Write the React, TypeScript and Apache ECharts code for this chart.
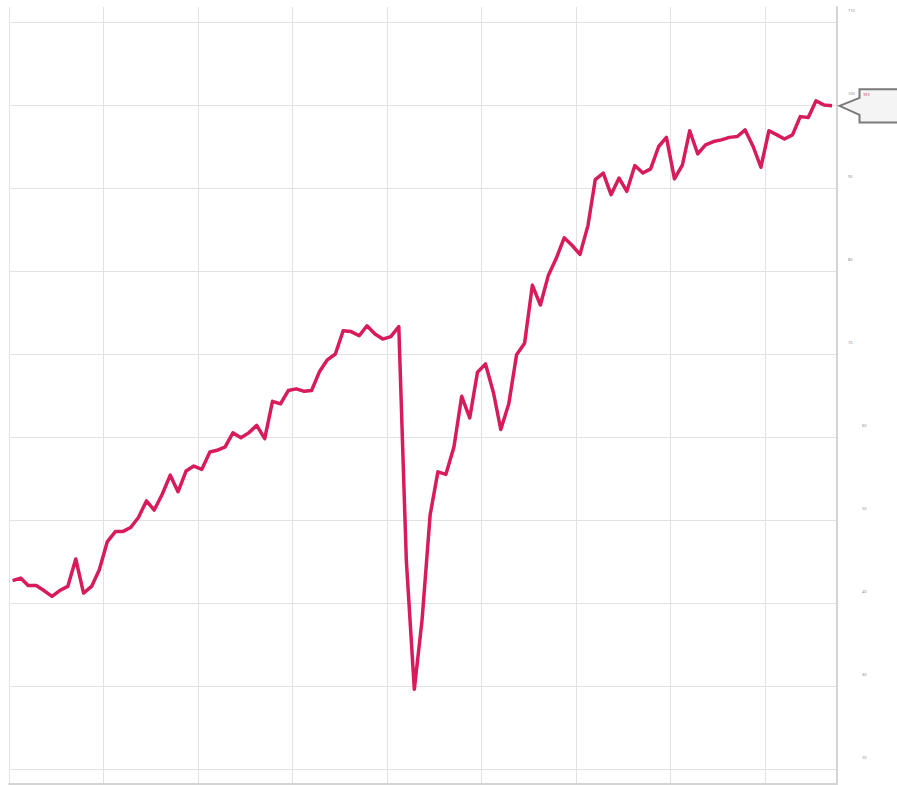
import React, { useEffect, useRef } from "react";
import * as echarts from "echarts";

// Monthly values, Jan 2016 .. Sep 2024
const values: number[] = [
  42.7, 43.0, 42.1, 42.1, 41.5, 40.8, 41.5, 42.0, 45.3, 41.2, 42.0, 44.0,
  47.4, 48.6, 48.6, 49.1, 50.3, 52.3, 51.2, 53.1, 55.4, 53.4, 55.9, 56.5,
  56.1, 58.2, 58.4, 58.8, 60.5, 59.9, 60.5, 61.4, 59.8, 64.3, 64.0, 65.6,
  65.8, 65.5, 65.6, 67.9, 69.3, 70.0, 72.8, 72.7, 72.2, 73.4, 72.4, 71.8,
  72.1, 73.3, 45.2, 29.6, 38.0, 50.6, 55.8, 55.5, 58.8, 64.9, 62.3, 67.8,
  68.8, 65.3, 60.9, 64.0, 69.9, 71.3, 78.3, 75.9, 79.5, 81.5, 84.0, 83.1,
  82.0, 85.5, 91.0, 91.8, 89.2, 91.2, 89.6, 92.7, 91.8, 92.3, 95.0, 96.1,
  91.1, 92.8, 96.9, 94.1, 95.2, 95.6, 95.8, 96.1, 96.2, 97.0, 95.0, 92.5,
  96.9, 96.4, 95.9, 96.4, 98.6, 98.5, 100.5, 100.0, 99.9,
];

const firstYear = 2016;
const months: string[] = values.map((_, i) => {
  const y = firstYear + Math.floor(i / 12);
  const m = (i % 12) + 1;
  return `${y}-${String(m).padStart(2, "0")}-15`;
});

const yTicks = [20, 30, 40, 50, 60, 70, 80, 90, 100, 110];
const yearLines = [2016, 2017, 2018, 2019, 2020, 2021, 2022, 2023, 2024];

const LINE_COLOR = "#d81b5b";
const GRID_COLOR = "#e2e2e2";
const AXIS_COLOR = "#d4d4d4";

export default function App() {
  const ref = useRef<HTMLDivElement>(null);

  useEffect(() => {
    if (!ref.current) return;
    const chart = echarts.init(ref.current, undefined, { renderer: "svg" });
    const data = months.map((d, i) => [d, values[i]]);

    chart.setOption({
      animation: false,
      textStyle: { fontFamily: "Noto Sans" },
      grid: [
        { left: 9, right: 60, top: 22, bottom: 16 },
        { left: 9, right: 60, top: 7, bottom: 1 },
      ],
      xAxis: [
        {
          type: "time",
          gridIndex: 0,
          min: "2016-01-01",
          max: "2024-10-04",
          show: false,
        },
        {
          type: "value",
          gridIndex: 1,
          min: 0,
          max: 8.762,
          interval: 1,
          axisLine: { show: true, onZero: false, lineStyle: { color: AXIS_COLOR, width: 2 } },
          axisTick: { show: false },
          axisLabel: { show: false, formatter: (v: number) => String(yearLines[v] ?? "") },
          splitLine: { show: true, lineStyle: { color: GRID_COLOR, width: 1 } },
        },
      ],
      yAxis: [
        {
          type: "value",
          gridIndex: 0,
          position: "right",
          min: yTicks[0],
          max: yTicks[yTicks.length - 1],
          interval: 10,
          axisLine: { show: false },
          axisTick: { show: false },
          splitLine: { show: true, lineStyle: { color: GRID_COLOR, width: 1 } },
          axisLabel: {
            show: true,
            margin: 11,
            align: "left",
            verticalAlign: "bottom",
            padding: [0, 0, 10, 0],
            fontSize: 4,
            lineHeight: 4,
            color: "#8a8a8a",
            formatter: (v: number) => (v >= 70 ? `{a|${v}}` : `{b|${v}}`),
            rich: {
              a: { fontSize: 4, lineHeight: 4, color: "#8a8a8a" },
              b: { fontSize: 4, lineHeight: 4, color: "#8a8a8a", padding: [0, 0, 0, 14] },
            },
          },
        },
        {
          type: "value",
          gridIndex: 1,
          position: "right",
          min: 0,
          max: 1,
          axisLine: { show: true, onZero: false, lineStyle: { color: AXIS_COLOR, width: 2 } },
          axisTick: { show: false },
          axisLabel: { show: false },
          splitLine: { show: false },
        },
      ],
      series: [
        {
          type: "line",
          xAxisIndex: 0,
          yAxisIndex: 0,
          data,
          symbol: "none",
          showSymbol: false,
          z: 5,
          lineStyle: { color: LINE_COLOR, width: 3.5, join: "round" },
          itemStyle: { color: LINE_COLOR },
        },
      ],
    });

    const last = values.length - 1;
    const pt = chart.convertToPixel({ seriesIndex: 0 }, [months[last], values[last]]) as number[];
    const ty = pt[1];
    const tx = chart.getWidth() - 60 + 2.5;
    chart.setOption({
      graphic: [
        {
          type: "polygon",
          z: 20,
          shape: {
            points: [
              [tx, ty],
              [tx + 20, ty - 8],
              [tx + 20, ty - 16.7],
              [tx + 80, ty - 16.7],
              [tx + 80, ty + 16.7],
              [tx + 20, ty + 16.7],
              [tx + 20, ty + 9],
            ],
          },
          style: { fill: "#f4f4f4", stroke: "#7a7a7a", lineWidth: 2 },
        },
        {
          type: "text",
          z: 21,
          x: tx + 24,
          y: ty - 12,
          style: { text: String(values[last]), fill: LINE_COLOR, fontSize: 3, fontFamily: "Noto Sans" },
        },
      ],
    });

    return () => chart.dispose();
  }, []);

  return (
    <div
      ref={ref}
      style={{ position: "absolute", left: 0, top: 0, width: 897, height: 785 }}
    />
  );
}
